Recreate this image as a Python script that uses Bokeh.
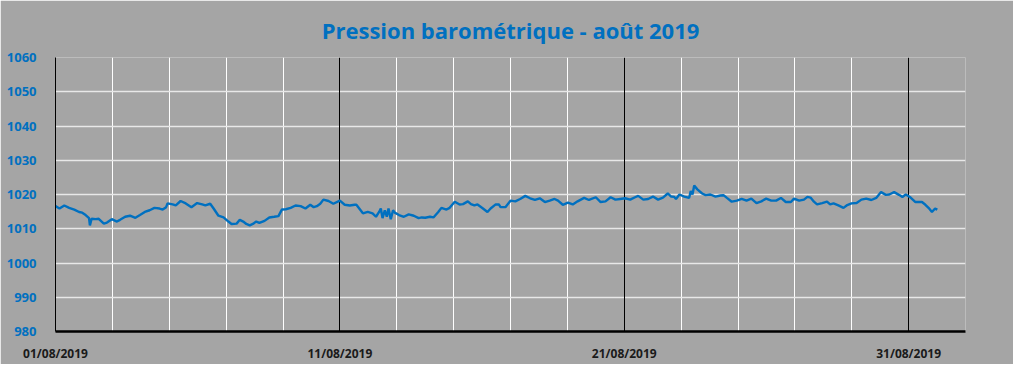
from bokeh.plotting import figure
from bokeh.models import Range1d, FixedTicker, Grid, Title
from bokeh.embed import file_html
from bokeh.resources import INLINE

# Days elapsed since 01/08/2019 00:00
days = [0.00, 0.14, 0.31, 0.48, 0.66, 0.83, 0.94, 1.06, 1.18, 1.21, 1.27, 1.41, 1.52, 1.70, 1.81,
        1.98, 2.16, 2.27, 2.45, 2.62, 2.81, 2.97, 3.14, 3.31, 3.48, 3.66, 3.77, 3.89, 3.94, 4.12,
        4.23, 4.40, 4.58, 4.78, 4.98, 5.16, 5.27, 5.44, 5.56, 5.73, 5.91, 6.08, 6.19, 6.37, 6.48,
        6.60, 6.71, 6.83, 6.94, 7.06, 7.17, 7.35, 7.52, 7.69, 7.84, 7.96, 8.10, 8.27, 8.44, 8.62,
        8.79, 8.96, 9.08, 9.19, 9.31, 9.42, 9.60, 9.77, 10.00, 10.17, 10.35, 10.52, 10.58, 10.81,
        10.98, 11.15, 11.27, 11.38, 11.44, 11.50, 11.58, 11.65, 11.71, 11.79, 11.87, 11.93, 12.08,
        12.25, 12.42, 12.60, 12.77, 12.88, 13.00, 13.17, 13.29, 13.46, 13.57, 13.75, 13.86, 14.04,
        14.21, 14.33, 14.50, 14.61, 14.73, 14.84, 15.02, 15.19, 15.30, 15.48, 15.59, 15.65, 15.82,
        16.00, 16.17, 16.34, 16.52, 16.69, 16.86, 17.03, 17.21, 17.38, 17.55, 17.67, 17.84, 18.02,
        18.19, 18.36, 18.59, 18.76, 19.00, 19.17, 19.34, 19.52, 19.69, 19.86, 20.03, 20.21, 20.38,
        20.49, 20.67, 20.84, 21.01, 21.19, 21.36, 21.53, 21.65, 21.76, 21.82, 21.94, 22.11, 22.28,
        22.34, 22.40, 22.46, 22.57, 22.74, 22.86, 23.03, 23.21, 23.38, 23.49, 23.61, 23.78, 23.96,
        24.13, 24.30, 24.47, 24.65, 24.82, 24.99, 25.17, 25.34, 25.51, 25.68, 25.86, 25.97, 26.15,
        26.32, 26.44, 26.55, 26.67, 26.78, 26.96, 27.13, 27.24, 27.36, 27.53, 27.71, 27.82, 27.99,
        28.17, 28.34, 28.51, 28.69, 28.86, 29.03, 29.20, 29.32, 29.49, 29.66, 29.78, 29.90, 30.07,
        30.24, 30.47, 30.59, 30.70, 30.82, 30.93, 31.01]

# Pressure in hPa
pressure = [1016.6, 1015.9, 1016.8, 1016.1, 1015.6, 1014.9, 1014.7, 1014.0, 1013.1, 1011.0, 1012.9,
            1012.8, 1012.9, 1011.5, 1011.8, 1012.8, 1012.1, 1012.6, 1013.5, 1013.8, 1013.2, 1014.0,
            1014.9, 1015.4, 1016.1, 1015.9, 1015.6, 1016.3, 1017.4, 1017.1, 1016.8, 1018.1, 1017.4,
            1016.3, 1017.5, 1017.1, 1016.8, 1017.3, 1015.9, 1013.8, 1013.3, 1012.1, 1011.4, 1011.5,
            1012.6, 1012.1, 1011.4, 1011.0, 1011.4, 1012.1, 1011.7, 1012.3, 1013.3, 1013.5, 1013.7,
            1015.6, 1015.7, 1016.1, 1016.8, 1016.6, 1015.9, 1017.0, 1016.3, 1016.6, 1017.3, 1018.5,
            1018.1, 1017.3, 1018.2, 1017.0, 1016.8, 1017.0, 1017.0, 1014.5, 1014.9, 1014.5, 1013.5,
            1014.9, 1015.9, 1013.1, 1015.4, 1013.5, 1015.9, 1012.8, 1015.4, 1014.7, 1014.0, 1013.5,
            1014.2, 1013.8, 1013.1, 1013.3, 1013.2, 1013.5, 1013.3, 1014.9, 1016.1, 1015.6, 1016.1,
            1017.9, 1017.1, 1017.2, 1018.0, 1017.2, 1016.8, 1017.1, 1016.0, 1014.9, 1015.9, 1017.1,
            1017.1, 1016.3, 1016.3, 1018.2, 1018.0, 1018.7, 1019.6, 1018.9, 1018.4, 1018.9, 1017.8,
            1018.2, 1018.7, 1018.2, 1017.0, 1017.6, 1017.1, 1018.0, 1019.0, 1018.4, 1019.2, 1017.8,
            1018.0, 1019.2, 1018.5, 1018.7, 1018.9, 1018.5, 1019.2, 1019.6, 1018.5, 1018.7, 1019.4,
            1018.5, 1019.1, 1020.3, 1019.4, 1019.3, 1018.7, 1020.0, 1019.4, 1019.0, 1021.0, 1020.0,
            1022.6, 1021.5, 1020.3, 1019.8, 1020.0, 1019.4, 1019.7, 1019.8, 1019.0, 1017.9, 1018.2,
            1018.7, 1018.2, 1018.8, 1017.5, 1018.0, 1018.8, 1018.2, 1018.2, 1019.0, 1017.8, 1017.8,
            1018.8, 1018.2, 1018.5, 1019.3, 1019.1, 1017.9, 1017.1, 1017.5, 1017.9, 1017.1, 1017.4,
            1016.8, 1016.1, 1016.8, 1017.4, 1017.5, 1018.5, 1018.8, 1018.4, 1019.0, 1020.7, 1019.9,
            1020.0, 1020.7, 1019.9, 1019.3, 1020.0, 1019.1, 1017.8, 1017.8, 1017.0, 1016.1, 1014.9,
            1015.9, 1015.6]

x_tick_days = [0, 10, 20, 30]
x_tick_labels = ["01/08/2019", "11/08/2019", "21/08/2019", "31/08/2019"]
y_ticks = [980, 990, 1000, 1010, 1020, 1030, 1040, 1050, 1060]

BG = "#A5A5A5"
BLUE = "#0070C0"
FONT = "Open Sans"

p = figure(width=1013, height=364, output_backend="svg", toolbar_location=None,
           x_range=Range1d(0, 32), y_range=Range1d(980, 1060),
           min_border_left=55, min_border_right=48, min_border_top=57, min_border_bottom=33)

p.background_fill_color = BG
p.border_fill_color = BG
p.outline_line_color = None

p.title = Title(text="Pression barométrique - août 2019", align="center",
                text_color=BLUE, text_font=FONT, text_font_size="22px",
                text_font_style="bold", standoff=22, vertical_align="top")

# grids
p.xgrid.ticker = FixedTicker(ticks=list(range(0, 33, 2)))
p.xgrid.grid_line_color = "white"
p.xgrid.grid_line_width = 1
p.ygrid.ticker = FixedTicker(ticks=y_ticks)
p.ygrid.grid_line_color = "#E8E8E8"
p.ygrid.grid_line_width = 1.3

black_grid = Grid(dimension=0, ticker=FixedTicker(ticks=x_tick_days[1:]),
                  grid_line_color="black", grid_line_width=1)
p.add_layout(black_grid)

# axes
p.xaxis.ticker = FixedTicker(ticks=x_tick_days)
p.xaxis.major_label_overrides = {d: l for d, l in zip(x_tick_days, x_tick_labels)}
p.xaxis.axis_line_color = "black"
p.xaxis.axis_line_width = 2.5
p.xaxis.major_tick_line_color = None
p.xaxis.minor_tick_line_color = None
p.xaxis.major_label_text_font = FONT
p.xaxis.major_label_text_font_size = "12px"
p.xaxis.major_label_text_font_style = "bold"
p.xaxis.major_label_text_color = "#1a1a1a"
p.xaxis.major_label_standoff = 7

p.yaxis.ticker = FixedTicker(ticks=y_ticks)
p.yaxis.axis_line_color = "black"
p.yaxis.axis_line_width = 1
p.yaxis.major_tick_line_color = None
p.yaxis.minor_tick_line_color = None
p.yaxis.major_label_text_font = FONT
p.yaxis.major_label_text_font_size = "13px"
p.yaxis.major_label_text_font_style = "bold"
p.yaxis.major_label_text_color = BLUE
p.yaxis.major_label_standoff = 13

p.line(days, pressure, line_color=BLUE, line_width=2.4)

open("out.html", "w").write(file_html(p, INLINE))
